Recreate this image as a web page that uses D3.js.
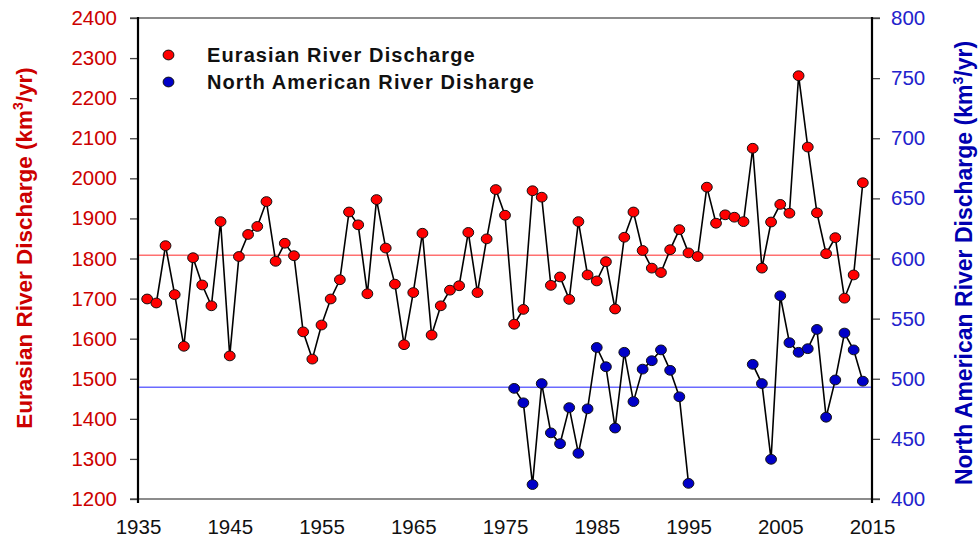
<!DOCTYPE html>
<html><head><meta charset="utf-8">
<script src="https://cdn.jsdelivr.net/npm/d3@7/dist/d3.min.js"></script>
<style>
html,body{margin:0;padding:0;background:#fff;}
svg{display:block;font-family:"Liberation Sans",Arial,sans-serif;}
</style></head>
<body>
<svg id="chart" width="980" height="542"></svg>
<script>
const euYears = [1936,1937,1938,1939,1940,1941,1942,1943,1944,1945,1946,1947,1948,1949,1950,1951,1952,1953,1954,1955,1956,1957,1958,1959,1960,1961,1962,1963,1964,1965,1966,1967,1968,1969,1970,1971,1972,1973,1974,1975,1976,1977,1978,1979,1980,1981,1982,1983,1984,1985,1986,1987,1988,1989,1990,1991,1992,1993,1994,1995,1996,1997,1998,1999,2000,2001,2002,2003,2004,2005,2006,2007,2008,2009,2010,2011,2012,2013,2014];
const euValues = [1699,1689,1832,1710,1581,1802,1734,1682,1892,1557,1805,1860,1880,1942,1793,1838,1807,1617,1549,1634,1699,1747,1916,1884,1712,1947,1826,1736,1585,1715,1863,1609,1682,1721,1732,1865,1715,1849,1972,1908,1636,1673,1969,1953,1733,1754,1698,1892,1759,1744,1792,1674,1853,1916,1820,1776,1765,1822,1872,1814,1805,1978,1888,1909,1903,1892,2075,1776,1891,1935,1913,2256,2078,1914,1812,1852,1701,1759,1989];
const naYears = [1976,1977,1978,1979,1980,1981,1982,1983,1984,1985,1986,1987,1988,1989,1990,1991,1992,1993,1994,1995,1996,1997,1998,1999,2000,2001,2002,2003,2004,2005,2006,2007,2008,2009,2010,2011,2012,2013,2014];
const naValues = [492,480,412,496,455,446,476,438,475,526,510,459,522,481,508,515,524,507,485,413,null,null,null,null,null,null,512,496,433,569,530,522,525,541,468,499,538,524,498];
const euMean = 1808;
const naMean = 493;
const leftTicks = [1200,1300,1400,1500,1600,1700,1800,1900,2000,2100,2200,2300,2400];
const rightTicks = [400,450,500,550,600,650,700,750,800];
const xTicks = [1935,1945,1955,1965,1975,1985,1995,2005,2015];
const seriesNames = ["Eurasian River Discharge","North American River Disharge"];

const svg = d3.select("#chart");
const x = d3.scaleLinear().domain([1935,2015]).range([138,872]);
const yL = d3.scaleLinear().domain([1200,2400]).range([499,18]);
const yR = d3.scaleLinear().domain([400,800]).range([499,18]);

// frame top/bottom gray lines
svg.append("line").attr("x1",130).attr("x2",880).attr("y1",yL(2400)).attr("y2",yL(2400)).attr("stroke","#666").attr("stroke-width",1.5);
svg.append("line").attr("x1",130).attr("x2",880).attr("y1",yL(1200)).attr("y2",yL(1200)).attr("stroke","#666").attr("stroke-width",1.5);

// left axis
const gL = svg.append("g").attr("transform","translate(138,0)")
  .call(d3.axisLeft(yL).tickValues(leftTicks).tickSize(8).tickPadding(13).tickFormat(d3.format("d")));
gL.select(".domain").remove();
gL.selectAll(".tick line").attr("stroke","#444").attr("stroke-width",1.3);
gL.selectAll(".tick text").attr("fill","#cc0000").style("font-size","20.5px").style("font-family","Liberation Sans, Arial, sans-serif");
svg.append("line").attr("x1",138).attr("x2",138).attr("y1",17).attr("y2",503).attr("stroke","#000").attr("stroke-width",2.2);

// right axis
const gR = svg.append("g").attr("transform","translate(872,0)")
  .call(d3.axisRight(yR).tickValues(rightTicks).tickSize(8).tickPadding(11).tickFormat(d3.format("d")));
gR.select(".domain").remove();
gR.selectAll(".tick line").attr("stroke","#444").attr("stroke-width",1.3);
gR.selectAll(".tick text").attr("fill","#2222cc").style("font-size","20.5px").style("font-family","Liberation Sans, Arial, sans-serif");
svg.append("line").attr("x1",872).attr("x2",872).attr("y1",17).attr("y2",503).attr("stroke","#000").attr("stroke-width",2.2);

// x axis labels
const gX = svg.append("g").attr("transform","translate(0,499)")
  .call(d3.axisBottom(x).tickValues(xTicks).tickSize(0).tickPadding(20).tickFormat(d3.format("d")));
gX.select(".domain").remove();
gX.selectAll(".tick text").attr("fill","#111").style("font-size","20.5px").style("font-family","Liberation Sans, Arial, sans-serif");

// mean lines
svg.append("line").attr("x1",139).attr("x2",871).attr("y1",yL(euMean)).attr("y2",yL(euMean)).attr("stroke","#ff7070").attr("stroke-width",1.5);
svg.append("line").attr("x1",139).attr("x2",871).attr("y1",yR(naMean)).attr("y2",yR(naMean)).attr("stroke","#6a6aff").attr("stroke-width",1.5);

// lines
const euData = euYears.map((yr,i)=>({yr, v:euValues[i]}));
const naData = naYears.map((yr,i)=>({yr, v:naValues[i]}));
svg.append("path").datum(euData).attr("fill","none").attr("stroke","#000").attr("stroke-width",1.6)
  .attr("d", d3.line().x(d=>x(d.yr)).y(d=>yL(d.v)));
svg.append("path").datum(naData).attr("fill","none").attr("stroke","#000").attr("stroke-width",1.6)
  .attr("d", d3.line().defined(d=>d.v!==null).x(d=>x(d.yr)).y(d=>yR(d.v)));

// markers
svg.append("g").selectAll("ellipse").data(euData).join("ellipse")
  .attr("cx",d=>x(d.yr)).attr("cy",d=>yL(d.v)).attr("rx",5.4).attr("ry",4.9)
  .attr("fill","#ff0000").attr("stroke","#111").attr("stroke-width",1);
svg.append("g").selectAll("ellipse").data(naData.filter(d=>d.v!==null)).join("ellipse")
  .attr("cx",d=>x(d.yr)).attr("cy",d=>yR(d.v)).attr("rx",5.4).attr("ry",4.9)
  .attr("fill","#0000c8").attr("stroke","#111").attr("stroke-width",1);

// legend
const legColors = ["#ff0000","#0000c8"];
const leg = svg.append("g");
seriesNames.forEach((name,i)=>{
  const cy = 55 + i*27;
  leg.append("ellipse").attr("cx",168.5).attr("cy",cy).attr("rx",5.4).attr("ry",4.9)
    .attr("fill",legColors[i]).attr("stroke","#111").attr("stroke-width",1);
  leg.append("text").attr("x",207).attr("y",cy+7).text(name)
    .attr("fill","#111").style("font-size","20px").style("font-weight","bold").style("letter-spacing","1.1px");
});

// axis titles
const tl = svg.append("text").attr("transform","translate(32,248) rotate(-90)")
  .attr("text-anchor","middle").attr("fill","#cc0000").style("font-size","22.5px").style("font-weight","bold");
tl.append("tspan").text("Eurasian River Discharge (km");
tl.append("tspan").text("3").style("font-size","14px").attr("dy",-9);
tl.append("tspan").text("/yr)").attr("dy",9);

const tr = svg.append("text").attr("transform","translate(972,263) rotate(-90)")
  .attr("text-anchor","middle").attr("fill","#0000b0").style("font-size","23px").style("font-weight","bold");
tr.append("tspan").text("North American River Discharge (km");
tr.append("tspan").text("3").style("font-size","14px").attr("dy",-9);
tr.append("tspan").text("/yr)").attr("dy",9);
</script>
</body></html>
